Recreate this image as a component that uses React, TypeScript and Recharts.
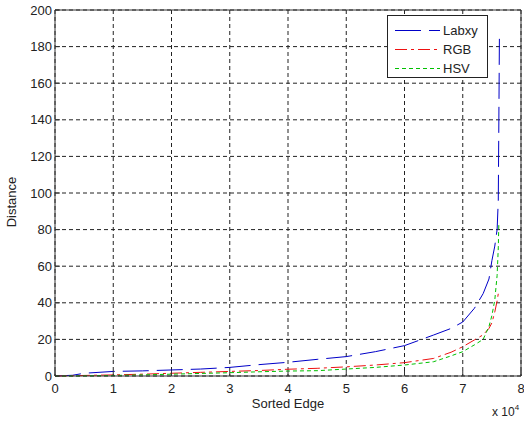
import React from 'react';
import {
    LineChart,
    Line,
    XAxis,
    YAxis,
    CartesianGrid,
    Legend,
    Label
} from 'recharts';

// sorted edge index (raw count, axis shows x 10^4)
const sortedEdge = [0, 3000, 5000, 10000, 15000, 20000, 25000, 30000, 35000, 40000, 45000, 50000, 55000, 60000, 65000, 68000, 70000, 72000, 73500, 74500, 75000, 75500, 75900, 76100, 76200, 76300];
const labxy = [0, 0.4, 1.5, 2.5, 2.8, 3.3, 3.8, 4.7, 6.2, 7.5, 9.1, 10.6, 13.3, 16.6, 22.4, 26, 29.5, 37, 45, 53, 63, 71, 80, 96, 140, 188];
const rgb = [0, 0.1, 0.3, 0.6, 1.0, 1.5, 2.0, 2.5, 3.0, 3.7, 4.2, 5.0, 6.0, 7.3, 9.6, 13, 16, 19.7, 22.5, 26, 29, 35, 41, 45, null, null];
const hsv = [0, 0, 0.1, 0.3, 0.6, 1.0, 1.4, 1.8, 2.3, 2.7, 2.9, 3.8, 4.7, 6.0, 7.8, 11, 13.3, 17, 20, 27, 33, 41.5, 55, 70, 84, null];

const xTicks = [0, 10000, 20000, 30000, 40000, 50000, 60000, 70000, 80000];
const yTicks = [0, 20, 40, 60, 80, 100, 120, 140, 160, 180, 200];

const seriesNames = ['Labxy', 'RGB', 'HSV'];
const seriesColors = ['#0000c8', '#ee1111', '#00c000'];
const seriesDash = ['26 8', '12 4 3 4', '4 3'];

const FONT = '"Liberation Sans", Arial, sans-serif';
const TEXT = '#222';

const data = sortedEdge.map((x, i) => ({ x, labxy: labxy[i], rgb: rgb[i], hsv: hsv[i] }));
const keys = ['labxy', 'rgb', 'hsv'];

const LegendBox = () => (
    <svg width={101} height={63} style={{ display: 'block' }}>
        <rect x={0.5} y={0.5} width={100} height={62} fill="#fff" stroke="#222" />
        {seriesNames.map((name, i) => (
            <g key={name}>
                <line x1={8} x2={53} y1={15.5 + i * 19} y2={15.5 + i * 19}
                    stroke={seriesColors[i]} strokeDasharray={seriesDash[i]} />
                <text x={56} y={15.5 + i * 19} dy="0.35em" fontSize={13}
                    fontFamily={FONT} fill={TEXT}>{name}</text>
            </g>
        ))}
    </svg>
);

const ExpLabel = (props: any) => {
    const { viewBox } = props;
    const right = viewBox.x + viewBox.width;
    return (
        <text x={right - 29} y={viewBox.y + 40} fontSize={12} fontFamily={FONT} fill={TEXT}>
            x 10<tspan fontSize={8} dy={-6}>4</tspan>
        </text>
    );
};

const YLabel = (props: any) => (
    <text x={16} y={202} transform="rotate(-90 16 202)" textAnchor="middle"
        fontSize={13} fontFamily={FONT} fill={TEXT}>Distance</text>
);

export default function App() {
    const tickStyle = { fontSize: 13, fontFamily: FONT, fill: TEXT };
    return (
        <div style={{ position: 'absolute', left: 0, top: 0, background: '#fff' }}>
            <LineChart width={524} height={422} data={data}
                margin={{ top: 9, right: 2, bottom: 0, left: 0 }}>
                <CartesianGrid stroke="#222" strokeDasharray="4 3" />
                <XAxis dataKey="x" type="number" domain={[0, 80000]} ticks={xTicks} interval={0}
                    tickFormatter={(v) => `${v / 10000}`} height={46}
                    stroke="#333" tickSize={-5} tickMargin={13} tick={tickStyle}>
                    <Label value="Sorted Edge" position="insideBottom" offset={14}
                        style={{ fontSize: 13, fontFamily: FONT, fill: TEXT }} />
                    <Label content={<ExpLabel />} />
                </XAxis>
                <XAxis xAxisId="top" orientation="top" dataKey="x" type="number" domain={[0, 80000]}
                    ticks={xTicks} height={1} stroke="#333" tickSize={-5} tick={false} />
                <YAxis type="number" domain={[0, 200]} ticks={yTicks} interval={0} width={55}
                    stroke="#333" tickSize={-5} tickMargin={8} tick={tickStyle}>
                    <Label content={<YLabel />} />
                </YAxis>
                <YAxis yAxisId="right" orientation="right" type="number" domain={[0, 200]}
                    ticks={yTicks} width={1} stroke="#333" tickSize={-5} tick={false} />
                <Legend layout="horizontal" verticalAlign="middle" align="center"
                    wrapperStyle={{ top: 15, left: 387, width: 101, height: 63 }}
                    content={() => <LegendBox />} />
                {keys.map((k, i) => (
                    <Line key={k} type="linear" dataKey={k} name={seriesNames[i]}
                        stroke={seriesColors[i]} strokeWidth={1} strokeDasharray={seriesDash[i]}
                        dot={false} activeDot={false} isAnimationActive={false} />
                ))}
            </LineChart>
        </div>
    );
}
